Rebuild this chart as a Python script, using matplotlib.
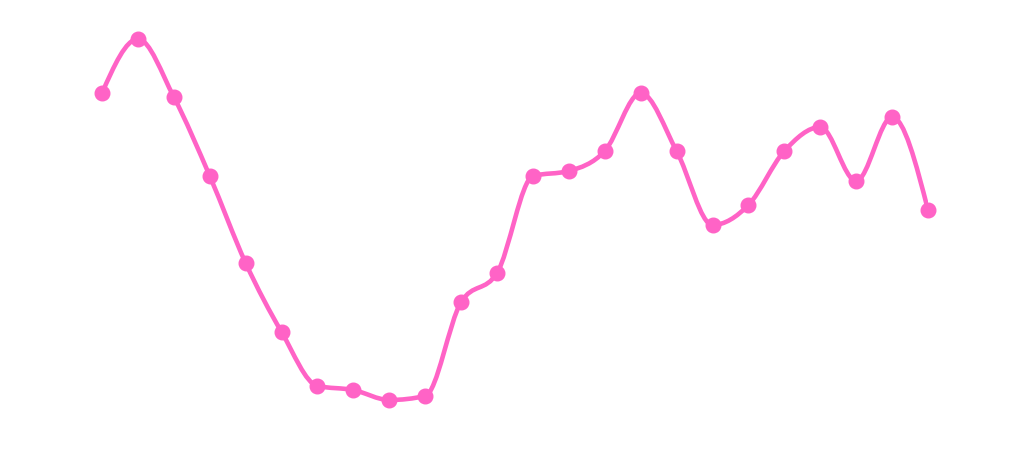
import numpy as np
import matplotlib
matplotlib.use('Agg')
import matplotlib.pyplot as plt
from matplotlib.path import Path
from matplotlib.patches import PathPatch

LINE_COLOR = '#ff63c6'

# series values (higher = further up)
x_idx = list(range(24))
values = [377, 431, 373, 294, 207, 138, 84, 80, 70, 74, 168, 197,
          294, 299, 319, 377, 319, 245, 265, 319, 343, 289, 353, 260]


def monotone_path(xs, ys):
    ''' monotone cubic (d3 curveMonotoneX style) as bezier path '''
    xs = np.asarray(xs, float)
    ys = np.asarray(ys, float)
    n = len(xs)
    h = np.diff(xs)
    s = np.diff(ys) / h
    t = np.zeros(n)
    for i in range(1, n - 1):
        if s[i - 1] * s[i] <= 0:
            t[i] = 0
        else:
            p = (s[i - 1] * h[i] + s[i] * h[i - 1]) / (h[i - 1] + h[i])
            t[i] = (np.sign(s[i - 1]) + np.sign(s[i])) * min(abs(s[i - 1]), abs(s[i]), 0.5 * abs(p))
    t[0] = (3 * s[0] - t[1]) / 2
    t[-1] = (3 * s[-1] - t[-2]) / 2
    verts = [(xs[0], ys[0])]
    codes = [Path.MOVETO]
    for i in range(n - 1):
        dx = h[i] / 3
        verts += [(xs[i] + dx, ys[i] + dx * t[i]),
                  (xs[i + 1] - dx, ys[i + 1] - dx * t[i + 1]),
                  (xs[i + 1], ys[i + 1])]
        codes += [Path.CURVE4] * 3
    return Path(verts, codes)


fig = plt.figure(figsize=(10.24, 4.7), dpi=100)
ax = fig.add_axes([102 / 1024, 0, (928 - 102) / 1024, 1])
ax.set_xlim(0, 23)
ax.set_ylim(0, 470)
ax.axis('off')

ax.add_patch(PathPatch(monotone_path(x_idx, values), facecolor='none',
                       edgecolor=LINE_COLOR, lw=3.3, capstyle='round', joinstyle='round'))
ax.plot(x_idx, values, ls='None', marker='o', markersize=10.5,
        color=LINE_COLOR, mec=LINE_COLOR, clip_on=False, zorder=3)

fig.savefig('out.png', dpi=100)
